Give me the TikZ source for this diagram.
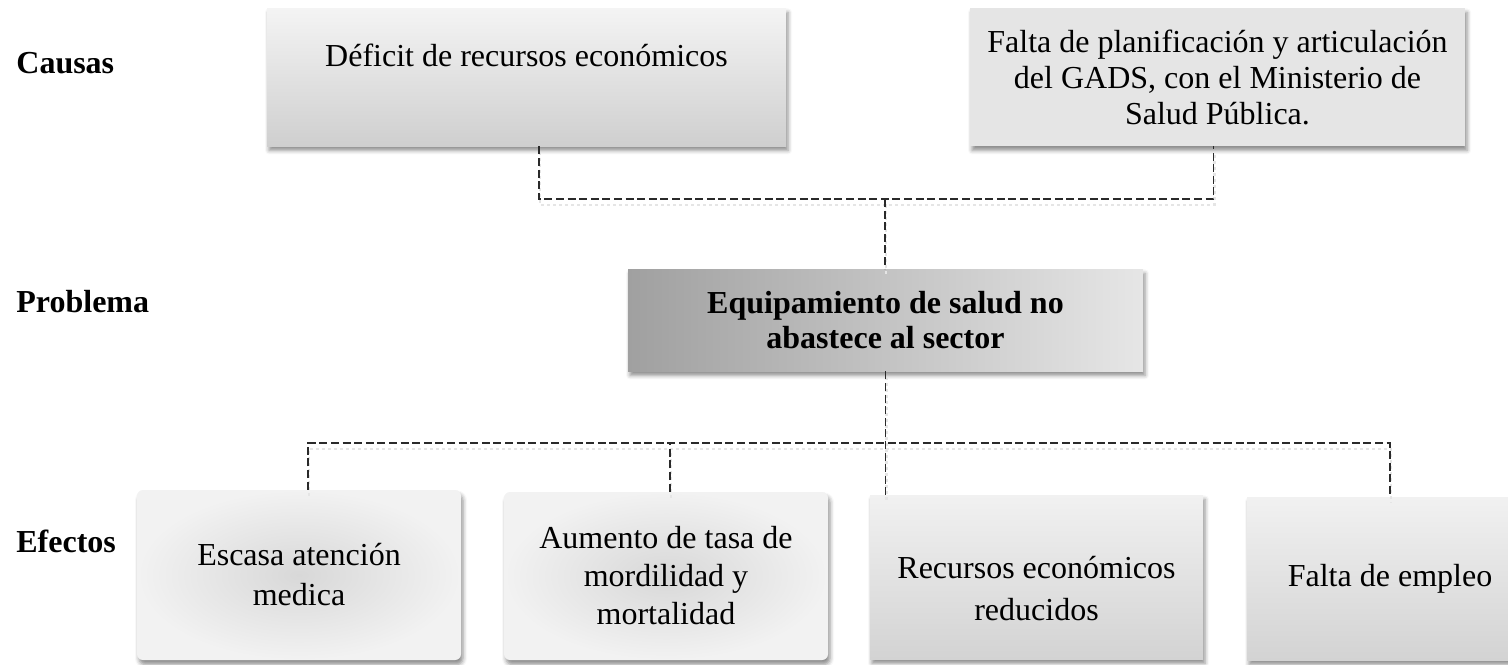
\documentclass[tikz,border=0pt]{standalone}
\usepackage{fontspec}
\setmainfont{Liberation Serif}
\usetikzlibrary{shadows.blur,calc}
\definecolor{linec}{HTML}{2A2A2A}
\definecolor{cTop}{HTML}{F4F4F4}
\definecolor{cBot}{HTML}{CFCFCF}
\definecolor{flatc}{HTML}{E5E5E5}
\definecolor{pLeft}{HTML}{A0A0A0}
\definecolor{pRight}{HTML}{E6E6E6}
\definecolor{rIn}{HTML}{D8D8D8}
\definecolor{rOut}{HTML}{F2F2F2}
\definecolor{eTop}{HTML}{F1F1F1}
\definecolor{eBot}{HTML}{D3D3D3}
\begin{document}
\begin{tikzpicture}[x=0.5pt,y=-0.5pt,
  txt/.style={font=\fontsize{16pt}{18.5pt}\selectfont, align=center, inner sep=0pt},
  lab/.style={font=\fontsize{16pt}{18.5pt}\selectfont\bfseries, inner sep=0pt, anchor=west},
  boxbase/.style={txt, draw=none,
    blur shadow={shadow xshift=1pt, shadow yshift=-2.2pt, shadow blur radius=2pt, shadow opacity=45}},
  causebox/.style={boxbase, top color=cTop, bottom color=cBot},
  flatbox/.style={boxbase, fill=flatc},
  probbox/.style={boxbase, left color=pLeft, right color=pRight},
  roundbox/.style={boxbase, rounded corners=3pt, inner color=rIn, outer color=rOut},
  effbox/.style={boxbase, top color=eTop, bottom color=eBot},
  conn/.style={draw=linec, line width=0.6pt, dash pattern=on 4pt off 1.8pt,
    preaction={draw=black!10, line width=1.4pt, dash pattern=on 1.5pt off 1.5pt,
      transform canvas={xshift=0.5pt, yshift=-3pt}}}
]
\useasboundingbox (0,0) rectangle (1508,664);
\clip (0,0) rectangle (1508,664);

% row labels
\node[lab] (lc) at (16,63) {Causas};
\node[lab] (lp) at (16,302) {Problema};
\node[lab] (le) at (16,541) {Efectos};

% box positions (invisible anchors first for connectors)
\path (526.5,77) coordinate (c1pos);

% connectors drawn before boxes
\coordinate (tb) at (885,199);
\coordinate (bb) at (885,443);

% boxes
\node[causebox, minimum width=259.5pt, minimum height=69pt] (c1) at (526.5,77)
  {\raisebox{11pt}[\height][\depth]{Déficit de recursos económicos}};
\node[flatbox, minimum width=247.5pt, minimum height=69pt,
  font=\fontsize{16pt}{18pt}\selectfont] (c2) at (1217.5,77)
  {Falta de planificación y articulación\\del GADS, con el Ministerio de\\Salud Pública.};
\node[probbox, minimum width=257.5pt, minimum height=51pt,
  font=\fontsize{16pt}{17.5pt}\selectfont\bfseries] (prob) at (885.5,320)
  {Equipamiento de salud no\\abastece al sector};
\node[roundbox, minimum width=162pt, minimum height=85pt,
  font=\fontsize{16pt}{20pt}\selectfont] (e1) at (299,575)
  {Escasa atención\\medica};
\node[roundbox, minimum width=162pt, minimum height=84pt,
  font=\fontsize{16pt}{19pt}\selectfont] (e2) at (666,576)
  {Aumento de tasa de\\mordilidad y\\mortalidad};
\node[effbox, minimum width=166.5pt, minimum height=82pt,
  font=\fontsize{16pt}{21pt}\selectfont] (e3) at (1036.5,577)
  {\raisebox{-7pt}[\height][\depth]{\begin{tabular}{@{}c@{}}Recursos económicos\\reducidos\end{tabular}}};
\node[effbox, minimum width=143pt, minimum height=81.5pt] (e4) at (1390,578.5)
  {Falta de empleo};

% ports
\coordinate (c1port) at ($(c1.south)+(12.5,0)$);
\coordinate (c2port) at ($(c2.south)+(-4,0)$);
\coordinate (e1port) at ($(e1.north)+(9,0)$);
\coordinate (e2port) at ($(e2.north)+(4,0)$);

% connectors
\draw[conn] (c1port) |- (tb) -| (c2port);
\draw[conn] (tb) -- (tb |- prob.north);
\draw[conn] (prob.south) -- (prob.south |- e3.north);
\draw[conn] (e1port) |- (bb) -| (e4.north);
\draw[conn] (e2port) -- (e2port |- bb);
\end{tikzpicture}
\end{document}
